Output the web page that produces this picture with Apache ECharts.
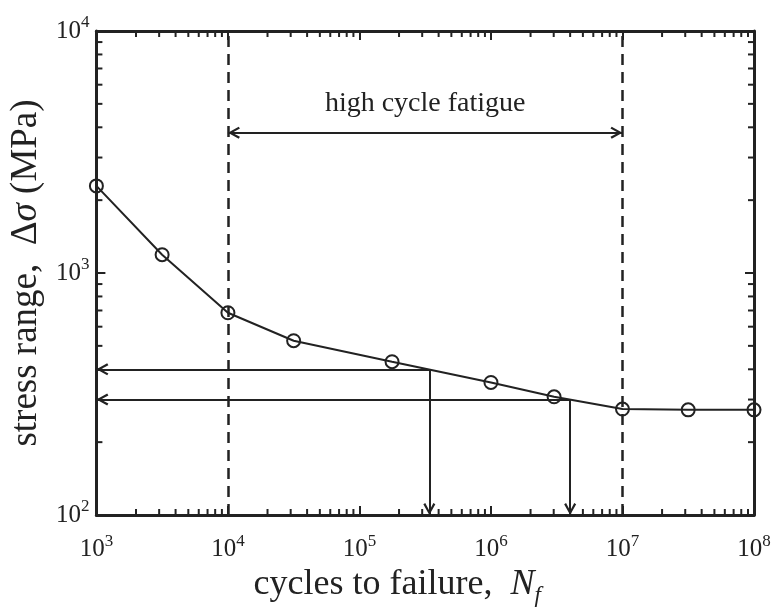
<!DOCTYPE html>
<html>
<head>
<meta charset="utf-8">
<script src="https://cdn.jsdelivr.net/npm/echarts@6/dist/echarts.min.js"></script>
<style>
  html, body { margin: 0; padding: 0; background: #fff; }
  #chart { width: 775px; height: 616px; }
</style>
</head>
<body>
<div id="chart"></div>
<script>
// S-N curve points
const cycles = [1e3, 3.16e3, 1e4, 3.16e4, 1.77e5, 1e6, 3.02e6, 1e7, 3.16e7, 1e8];
const stress = [2290, 1190, 685, 525, 430, 353, 308, 274, 272, 272];

// axis ranges (decades)
const xRange = [1e3, 1e8];
const yRange = [1e2, 1e4];

// dashed bounds of the high cycle fatigue region
const hcfBounds = [1e4, 1e7];
const hcfArrowY = 3800;
const hcfLabel = 'high cycle fatigue';

// read-off arrows: [cycles at curve, stress level]
const readOffs = [[3.4e5, 400], [4.0e6, 300]];

const ink = '#222';
const font = 'Liberation Serif';

// minor ticks at 2..9 x 10^k
const minorX = [];
for (let e = 3; e < 8; e++) for (let m = 2; m <= 9; m++) minorX.push(m * Math.pow(10, e));
const minorY = [];
for (let e = 2; e < 4; e++) for (let m = 2; m <= 9; m++) minorY.push(m * Math.pow(10, e));

const arrowHead = 'path://M5,0 L10,9 L8.4,10 L5,3.6 L1.6,10 L0,9 Z';
const headOffset = [0, 6];

const powLabel = v => '{b|10}{sup|' + Math.round(Math.log10(v)) + '}';
const tickRich = {
  b: { fontFamily: font, fontSize: 25, color: ink },
  sup: { fontFamily: font, fontSize: 17, color: ink, padding: [0, 0, 16, 0] }
};

const chart = echarts.init(document.getElementById('chart'), null, { renderer: 'canvas' });

const tickLine = (x1, y1, x2, y2) => ({
  type: 'line',
  shape: { x1, y1, x2, y2 },
  style: { stroke: ink, lineWidth: 2 }
});

const head = coord => ({ coord, symbol: arrowHead, symbolOffset: headOffset });

const arrowLines = [];
readOffs.forEach(([n, s]) => {
  arrowLines.push([{ coord: [n, s], symbol: 'none' }, head([xRange[0], s])]);
  arrowLines.push([{ coord: [n, s], symbol: 'none' }, head([n, yRange[0]])]);
});

const hcfArrow = [
  head([hcfBounds[0], hcfArrowY]),
  Object.assign(head([hcfBounds[1], hcfArrowY]), {
    label: {
      show: true,
      position: 'insideMiddleTop',
      distance: 15,
      formatter: hcfLabel,
      fontFamily: font,
      fontSize: 28,
      color: ink
    }
  })
];

const option = {
  animation: false,
  backgroundColor: '#fff',
  grid: { left: 96, right: 21, top: 31, bottom: 101 },
  xAxis: [
    {
      type: 'log',
      logBase: 10,
      min: xRange[0],
      max: xRange[1],
      name: '{t|cycles to failure,  }{i|N}{s|f}',
      nameLocation: 'middle',
      nameGap: 43,
      nameTextStyle: {
        padding: [0, 56, 0, 0],
        rich: {
          t: { fontFamily: font, fontSize: 36, color: ink },
          i: { fontFamily: font, fontSize: 36, fontStyle: 'italic', color: ink },
          s: { fontFamily: font, fontSize: 23, fontStyle: 'italic', color: ink, padding: [22, 0, 0, 0] }
        }
      },
      axisLine: { lineStyle: { color: ink, width: 3 } },
      axisTick: { inside: true, length: 9, lineStyle: { color: ink, width: 2 } },
      axisLabel: { margin: 18, formatter: powLabel, rich: tickRich },
      splitLine: { show: false }
    },
    {
      type: 'log',
      logBase: 10,
      position: 'top',
      min: xRange[0],
      max: xRange[1],
      axisLine: { lineStyle: { color: ink, width: 3 } },
      axisTick: { inside: true, length: 9, lineStyle: { color: ink, width: 2 } },
      axisLabel: { show: false },
      splitLine: { show: false }
    }
  ],
  yAxis: [
    {
      type: 'log',
      logBase: 10,
      min: yRange[0],
      max: yRange[1],
      name: '{t|stress range,  Δ}{i|σ}{t| (MPa)}',
      nameLocation: 'middle',
      nameGap: 50,
      nameTextStyle: {
        rich: {
          t: { fontFamily: font, fontSize: 37, color: ink },
          i: { fontFamily: font, fontSize: 37, fontStyle: 'italic', color: ink }
        }
      },
      axisLine: { lineStyle: { color: ink, width: 3 } },
      axisTick: { inside: true, length: 9, lineStyle: { color: ink, width: 2 } },
      axisLabel: { margin: 7, formatter: powLabel, rich: tickRich },
      splitLine: { show: false }
    },
    {
      type: 'log',
      logBase: 10,
      position: 'right',
      min: yRange[0],
      max: yRange[1],
      axisLine: { lineStyle: { color: ink, width: 3 } },
      axisTick: { inside: true, length: 9, lineStyle: { color: ink, width: 2 } },
      axisLabel: { show: false },
      splitLine: { show: false }
    }
  ],
  series: [
    {
      name: 'minorX',
      type: 'custom',
      silent: true,
      clip: false,
      data: minorX.map(v => [v, yRange[0]]),
      renderItem: (params, api) => {
        const v = api.value(0);
        const b = api.coord([v, yRange[0]]);
        const t = api.coord([v, yRange[1]]);
        return {
          type: 'group',
          children: [tickLine(b[0], b[1], b[0], b[1] - 6), tickLine(t[0], t[1], t[0], t[1] + 6)]
        };
      }
    },
    {
      name: 'minorY',
      type: 'custom',
      silent: true,
      clip: false,
      data: minorY.map(v => [xRange[0], v]),
      renderItem: (params, api) => {
        const v = api.value(1);
        const l = api.coord([xRange[0], v]);
        const r = api.coord([xRange[1], v]);
        return {
          type: 'group',
          children: [tickLine(l[0], l[1], l[0] + 6, l[1]), tickLine(r[0], r[1], r[0] - 6, r[1])]
        };
      }
    },
    {
      name: 'bounds',
      type: 'line',
      data: [],
      silent: true,
      markLine: {
        silent: true,
        animation: false,
        symbol: ['none', 'none'],
        label: { show: false },
        lineStyle: { color: ink, width: 2.5, type: [11, 7] },
        data: hcfBounds.map(x => ({ xAxis: x }))
      }
    },
    {
      name: 'arrows',
      type: 'line',
      data: [],
      silent: true,
      markLine: {
        silent: true,
        animation: false,
        symbolSize: [12, 12],
        label: { show: false },
        lineStyle: { color: ink, width: 2, type: 'solid' },
        data: [hcfArrow, ...arrowLines]
      }
    },
    {
      name: 'S-N',
      type: 'line',
      data: cycles.map((n, i) => [n, stress[i]]),
      symbol: 'circle',
      symbolSize: 13,
      lineStyle: { color: ink, width: 2 },
      itemStyle: { color: 'rgba(0,0,0,0)', borderColor: ink, borderWidth: 2 },
      clip: false,
      z: 5
    }
  ]
};

chart.setOption(option);
</script>
</body>
</html>
